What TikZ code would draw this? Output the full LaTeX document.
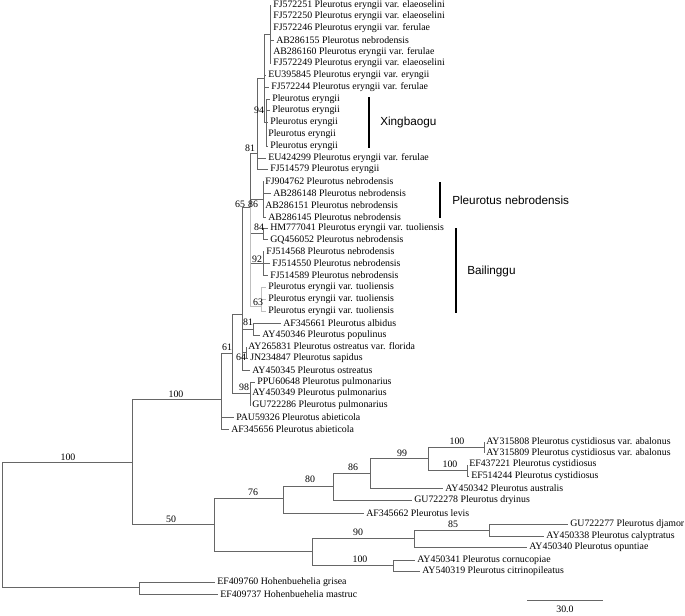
\documentclass[tikz,border=0pt]{standalone}
\usepackage{fontspec}
\setmainfont{Liberation Serif}
\newfontfamily\cladefont{Liberation Sans}
\usepackage{tikz}
\usetikzlibrary{positioning}

\newcommand{\leaffont}{\fontsize{7.4}{8}\selectfont}

\begin{document}
\begin{tikzpicture}[
    x=0.75pt, y=-0.75pt,
    leaf/.style={anchor=west, inner xsep=1.5pt, inner ysep=0pt, font=\leaffont},
    boot/.style={inner sep=0pt, font=\leaffont},
    branch/.style={draw=black!60, line width=0.7pt},
    pale/.style={draw=black!25, line width=0.7pt},
    cladebar/.style={line width=#1},
    cladename/.style={anchor=west, inner sep=0pt, font=\cladefont\fontsize{8.8}{10}\selectfont},
]
\useasboundingbox (0,0) rectangle (685,615);

% Leaves
\node[leaf] (l1) at (271,5) {FJ572251 Pleurotus eryngii var. elaeoselini};
\node[leaf] (l2) at (271,16.5) {FJ572250 Pleurotus eryngii var. elaeoselini};
\node[leaf] (l3) at (271,28) {FJ572246 Pleurotus eryngii var. ferulae};
\node[leaf] (l4) at (274,40) {AB286155 Pleurotus nebrodensis};
\node[leaf] (l5) at (271,52) {AB286160 Pleurotus eryngii var. ferulae};
\node[leaf] (l6) at (271,63.5) {FJ572249 Pleurotus eryngii var. elaeoselini};
\node[leaf] (l7) at (266,75) {EU395845 Pleurotus eryngii var. eryngii};
\node[leaf] (l8) at (269,87) {FJ572244 Pleurotus eryngii var. ferulae};
\node[leaf] (l9) at (270,99) {Pleurotus eryngii};
\node[leaf] (l10) at (270,110.5) {Pleurotus eryngii};
\node[leaf] (l11) at (268,122) {Pleurotus eryngii};
\node[leaf] (l12) at (266,134) {Pleurotus eryngii};
\node[leaf] (l13) at (268,146) {Pleurotus eryngii};
\node[leaf] (l14) at (266,158) {EU424299 Pleurotus eryngii var. ferulae};
\node[leaf] (l15) at (268,169.5) {FJ514579 Pleurotus eryngii};
\node[leaf] (l16) at (263,181) {FJ904762 Pleurotus nebrodensis};
\node[leaf] (l17) at (271,193) {AB286148 Pleurotus nebrodensis};
\node[leaf] (l18) at (263,205) {AB286151 Pleurotus nebrodensis};
\node[leaf] (l19) at (266,217) {AB286145 Pleurotus nebrodensis};
\node[leaf] (l20) at (268,228) {HM777041 Pleurotus eryngii var. tuoliensis};
\node[leaf] (l21) at (268,239.5) {GQ456052 Pleurotus nebrodensis};
\node[leaf] (l22) at (264,251.5) {FJ514568 Pleurotus nebrodensis};
\node[leaf] (l23) at (270,263.5) {FJ514550 Pleurotus nebrodensis};
\node[leaf] (l24) at (268,275.5) {FJ514589 Pleurotus nebrodensis};
\node[leaf] (l25) at (266,287.5) {Pleurotus eryngii var. tuoliensis};
\node[leaf] (l26) at (266,299) {Pleurotus eryngii var. tuoliensis};
\node[leaf] (l27) at (266,311) {Pleurotus eryngii var. tuoliensis};
\node[leaf] (l28) at (281,323) {AF345661 Pleurotus albidus};
\node[leaf] (l29) at (260,335) {AY450346 Pleurotus populinus};
\node[leaf] (l30) at (246,346.5) {AY265831 Pleurotus ostreatus var. florida};
\node[leaf] (l31) at (248,358) {JN234847 Pleurotus sapidus};
\node[leaf] (l32) at (250,370) {AY450345 Pleurotus ostreatus};
\node[leaf] (l33) at (255,382) {PPU60648 Pleurotus pulmonarius};
\node[leaf] (l34) at (250,393.5) {AY450349 Pleurotus pulmonarius};
\node[leaf] (l35) at (250,405.5) {GU722286 Pleurotus pulmonarius};
\node[leaf] (l36) at (234,417.5) {PAU59326 Pleurotus abieticola};
\node[leaf] (l37) at (229,429) {AF345656 Pleurotus abieticola};
\node[leaf] (l38) at (484,442) {AY315808 Pleurotus cystidiosus var. abalonus};
\node[leaf] (l39) at (484,453) {AY315809 Pleurotus cystidiosus var. abalonus};
\node[leaf] (l40) at (467,464.5) {EF437221 Pleurotus cystidiosus};
\node[leaf] (l41) at (469,476) {EF514244 Pleurotus cystidiosus};
\node[leaf] (l42) at (443,488) {AY450342 Pleurotus australis};
\node[leaf] (l43) at (412,500) {GU722278 Pleurotus dryinus};
\node[leaf] (l44) at (364,513) {AF345662 Pleurotus levis};
\node[leaf] (l45) at (568,524) {GU722277 Pleurotus djamor};
\node[leaf] (l46) at (544,536) {AY450338 Pleurotus calyptratus};
\node[leaf] (l47) at (527,547.5) {AY450340 Pleurotus opuntiae};
\node[leaf] (l48) at (415,560) {AY450341 Pleurotus cornucopiae};
\node[leaf] (l49) at (420,571.5) {AY540319 Pleurotus citrinopileatus};
\node[leaf] (l50) at (215,582) {EF409760 Hohenbuehelia grisea};
\node[leaf] (l51) at (218,594) {EF409737 Hohenbuehelia mastruc};

% Internal nodes
\coordinate (nR) at (2,462);
\coordinate (nO) at (139,587);
\coordinate (nI) at (132,462);
\coordinate (nA) at (221,399);
\coordinate (n61) at (232,353);
\coordinate (nQ) at (242,314);
\coordinate (n65) at (250,207);
\coordinate (n81) at (257,153);
\coordinate (nX) at (264,78);
\coordinate (nA1) at (270,34);
\coordinate (n94) at (266,122);
\coordinate (n86) at (263,199);
\coordinate (n84) at (263,233.5);
\coordinate (n92) at (263,263.5);
\coordinate (n63) at (261,306);
\coordinate (n81a) at (253,329);
\coordinate (n64) at (246,352);
\coordinate (n98) at (250,393);
\coordinate (nB) at (214,524);
\coordinate (n76) at (283,498);
\coordinate (n80) at (333,486);
\coordinate (n86b) at (370,473);
\coordinate (n99) at (428,458.5);
\coordinate (n100a) at (484,447.5);
\coordinate (n100b) at (467,470);
\coordinate (nC) at (312,551);
\coordinate (n90) at (414,538);
\coordinate (n85) at (489,530);
\coordinate (n100c) at (393,565);

% Branches
\foreach \c in {nI,nO} \draw[branch] (nR) |- (\c);
\foreach \c in {l50,l51} \draw[branch] (nO) |- (\c);
\foreach \c in {nA,nB} \draw[branch] (nI) |- (\c);
\foreach \c in {n61,l36,l37} \draw[branch] (nA) |- (\c);
\foreach \c in {nQ,n98} \draw[branch] (n61) |- (\c);
\foreach \c in {n65,n81a,n64,l32} \draw[branch] (nQ) |- (\c);
\foreach \c in {n81,n86,n84,n92} \draw[branch] (n65) |- (\c);
\draw[pale] (n65) |- (n63);
\foreach \c in {nX,l14,l15} \draw[branch] (n81) |- (\c);
\foreach \c in {nA1,l7,l8,n94} \draw[branch] (nX) |- (\c);
\foreach \c in {l1,l2,l3,l4,l5,l6} \draw[branch] (nA1) |- (\c);
\foreach \c in {l9,l10,l11,l12,l13} \draw[branch] (n94) |- (\c);
\foreach \c in {l16,l17,l18,l19} \draw[branch] (n86) |- (\c);
\foreach \c in {l20,l21} \draw[branch] (n84) |- (\c);
\foreach \c in {l22,l23,l24} \draw[branch] (n92) |- (\c);
\foreach \c in {l25,l26,l27} \draw[pale] (n63) |- (\c);
\foreach \c in {l28,l29} \draw[branch] (n81a) |- (\c);
\foreach \c in {l30,l31} \draw[branch] (n64) |- (\c);
\foreach \c in {l33,l34,l35} \draw[branch] (n98) |- (\c);
\foreach \c in {n76,nC} \draw[branch] (nB) |- (\c);
\foreach \c in {n80,l44} \draw[branch] (n76) |- (\c);
\foreach \c in {n86b,l43} \draw[branch] (n80) |- (\c);
\foreach \c in {n99,l42} \draw[branch] (n86b) |- (\c);
\foreach \c in {n100a,n100b} \draw[branch] (n99) |- (\c);
\foreach \c in {l38,l39} \draw[branch] (n100a) |- (\c);
\foreach \c in {l40,l41} \draw[branch] (n100b) |- (\c);
\foreach \c in {n90,n100c} \draw[branch] (nC) |- (\c);
\foreach \c in {n85,l47} \draw[branch] (n90) |- (\c);
\foreach \c in {l45,l46} \draw[branch] (n85) |- (\c);
\foreach \c in {l48,l49} \draw[branch] (n100c) |- (\c);

% Bootstrap values
\node[boot] (bI) at (68,457) {100};
\node[boot] (bA) at (176,394) {100};
\node[boot] (bB) at (171,519) {50};
\node[boot] (b61) at (227,347) {61};
\node[boot] (b98) at (244,387) {98};
\node[boot] (b64) at (241,357) {64};
\node[boot] (b81a) at (248,322) {81};
\node[boot] (b65) at (240,204) {65};
\node[boot] (b86) at (253,204) {86};
\node[boot] (b81) at (250,148) {81};
\node[boot] (b94) at (259,110) {94};
\node[boot] (b84) at (259,227) {84};
\node[boot] (b92) at (257,259) {92};
\node[boot] (b63) at (258,302) {63};
\node[boot] (b76) at (253,492) {76};
\node[boot] (b80) at (310,479) {80};
\node[boot] (b86b) at (353,467) {86};
\node[boot] (b99) at (402,453) {99};
\node[boot] (b100a) at (457,441) {100};
\node[boot] (b100b) at (450,464) {100};
\node[boot] (b85) at (453,524) {85};
\node[boot] (b90) at (358,532) {90};
\node[boot] (b100c) at (360,559) {100};

% Clade bars
\draw[cladebar=1.6pt] (369,97) -- (369,148);
\node[cladename] (xing) at (380,122) {Xingbaogu};
\draw[cladebar=1.1pt] (440,182) -- (440,218);
\node[cladename] (nebro) at (452,200) {Pleurotus nebrodensis};
\draw[cladebar=1.4pt] (456,228) -- (456,313);
\node[cladename] (bai) at (467,271) {Bailinggu};

% Scale bar
\coordinate (sbl) at (527,600);
\coordinate (sbr) at (603,600);
\draw[branch] (sbl) -- (sbr);
\node[boot] (sblab) at (565,609) {30.0};

\end{tikzpicture}
\end{document}
